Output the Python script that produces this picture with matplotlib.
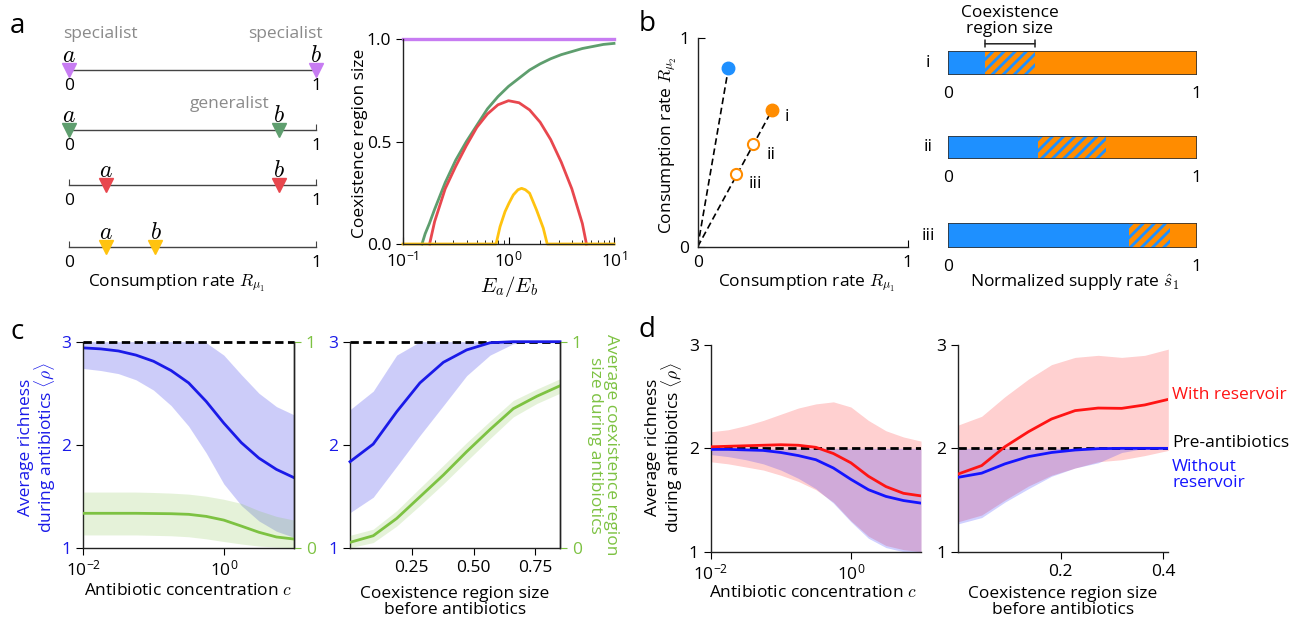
import numpy as np
import matplotlib
matplotlib.use('Agg')
import matplotlib.pyplot as plt
from matplotlib.ticker import NullLocator

plt.rcParams['font.family'] = ['Open Sans', 'DejaVu Sans']
plt.rcParams['mathtext.fontset'] = 'cm'
plt.rcParams['hatch.linewidth'] = 2.0
plt.rcParams['axes.linewidth'] = 1.0
plt.rcParams['axes.edgecolor'] = '#222222'

W, H = 1293, 621

# ---- panel a: consumer positions on the R_mu1 axis
row_a = [0.0, 0.0, 0.15, 0.15]
row_b = [1.0, 0.85, 0.85, 0.35]
row_colors = ['#c77cf2', '#5e9e6e', '#e8474e', '#ffc30f']

# ---- panel a right: coexistence region size vs Ea/Eb (log10 of Ea/Eb)
purple_logx = [-1.0, 1.0]
purple_y = [1, 1]
green_logx = [-0.82, -0.79, -0.75, -0.7, -0.6, -0.5, -0.4, -0.3, -0.2, -0.1, 0, 0.1, 0.2,
              0.3, 0.4, 0.5, 0.6, 0.7, 0.8, 0.9, 1.0]
green_y = [0, 0.05, 0.10, 0.17, 0.30, 0.41, 0.50, 0.58, 0.66, 0.72, 0.77, 0.81, 0.85,
           0.88, 0.905, 0.925, 0.94, 0.955, 0.965, 0.975, 0.98]
red_logx = [-0.748, -0.7, -0.6, -0.5, -0.4, -0.3, -0.2, -0.1, 0, 0.1, 0.2, 0.3, 0.4,
            0.5, 0.6, 0.7, 0.739]
red_y = [0, 0.11, 0.27, 0.38, 0.48, 0.57, 0.635, 0.68, 0.70, 0.69, 0.655, 0.595, 0.51,
         0.40, 0.27, 0.10, 0]
yellow_logx = [-1.0, -0.118, -0.08, -0.033, 0.005, 0.046, 0.09, 0.124, 0.16, 0.2, 0.266,
               0.33, 0.367, 1.0]
yellow_y = [0, 0, 0.085, 0.158, 0.2, 0.24, 0.265, 0.272, 0.265, 0.248, 0.166, 0.077, 0, 0]

# ---- panel b: consumption vectors and supply-rate bars
blue_pt = (0.146, 0.853)
orange_x = [0.354, 0.263, 0.182]
orange_y = [0.653, 0.49, 0.346]
orange_names = ['i', 'ii', 'iii']
blue_end = [0.148, 0.362, 0.729]
hatch_end = [0.349, 0.634, 0.893]

# ---- panel c left: richness vs antibiotic concentration
c_logc = [-2.0, -1.75, -1.5, -1.25, -1, -0.75, -0.5, -0.25, 0, 0.25, 0.5, 0.75, 1]
c_rich = [2.94, 2.93, 2.91, 2.87, 2.81, 2.72, 2.60, 2.42, 2.21, 2.02, 1.87, 1.76, 1.68]
c_rich_hi = [3, 3, 3, 3, 3, 3, 3, 2.99, 2.87, 2.68, 2.50, 2.37, 2.29]
c_rich_lo = [2.74, 2.72, 2.69, 2.63, 2.53, 2.38, 2.18, 1.92, 1.62, 1.41, 1.26, 1.16, 1.10]
c_size = [0.167, 0.167, 0.167, 0.167, 0.166, 0.165, 0.162, 0.152, 0.134, 0.105, 0.075, 0.052, 0.042]
c_size_hi = [0.27, 0.27, 0.27, 0.27, 0.268, 0.265, 0.26, 0.25, 0.235, 0.215, 0.18, 0.152, 0.134]
c_size_lo = [0.062, 0.062, 0.062, 0.062, 0.06, 0.058, 0.053, 0.043, 0.03, 0.018, 0.008, 0.003, 0.0]

# ---- panel c right: vs coexistence region size before antibiotics
c_reg = [0.0, 0.094, 0.189, 0.283, 0.378, 0.472, 0.567, 0.661, 0.756, 0.85]
cr_rich = [1.835, 2.006, 2.32, 2.60, 2.80, 2.92, 2.99, 3.0, 3.0, 3.0]
cr_rich_hi = [2.34, 2.52, 2.87, 3.0, 3.0, 3.0, 3.0, 3.0, 3.0, 3.0]
cr_rich_lo = [1.34, 1.49, 1.79, 2.09, 2.38, 2.67, 2.87, 2.98, 3.0, 3.0]
cr_size = [0.026, 0.058, 0.142, 0.247, 0.353, 0.466, 0.574, 0.675, 0.735, 0.786]
cr_size_hi = [0.06, 0.09, 0.18, 0.29, 0.40, 0.51, 0.615, 0.715, 0.77, 0.82]
cr_size_lo = [0.0, 0.025, 0.105, 0.205, 0.31, 0.42, 0.53, 0.635, 0.70, 0.75]

# ---- panel d left: with / without reservoir vs concentration
d_logc = [-2.0, -1.75, -1.5, -1.25, -1, -0.75, -0.5, -0.25, 0, 0.25, 0.5, 0.75, 1]
d_res = [2.015, 2.02, 2.025, 2.03, 2.035, 2.03, 2.01, 1.95, 1.86, 1.73, 1.63, 1.565, 1.54]
d_res_hi = [2.16, 2.18, 2.22, 2.27, 2.33, 2.39, 2.43, 2.45, 2.40, 2.27, 2.17, 2.11, 2.07]
d_res_lo = [1.87, 1.85, 1.82, 1.79, 1.74, 1.68, 1.60, 1.48, 1.30, 1.15, 1.06, 1.02, 1.0]
d_nores = [1.99, 1.99, 1.985, 1.98, 1.96, 1.93, 1.89, 1.81, 1.70, 1.60, 1.535, 1.495, 1.47]
d_nores_hi = [2.0] * 13
d_nores_lo = [1.94, 1.92, 1.89, 1.85, 1.79, 1.71, 1.61, 1.47, 1.29, 1.13, 1.04, 1.0, 0.98]

# ---- panel d right: vs coexistence region size before antibiotics
d_reg = [0.0, 0.0456, 0.0911, 0.137, 0.182, 0.228, 0.273, 0.319, 0.364, 0.41]
dr_res = [1.752, 1.833, 2.016, 2.161, 2.284, 2.365, 2.39, 2.387, 2.42, 2.474]
dr_res_hi = [2.226, 2.31, 2.50, 2.67, 2.81, 2.88, 2.90, 2.88, 2.90, 2.96]
dr_res_lo = [1.29, 1.355, 1.50, 1.636, 1.74, 1.81, 1.87, 1.89, 1.93, 1.98]
dr_nores = [1.72, 1.76, 1.85, 1.92, 1.96, 1.984, 1.997, 2.0, 2.0, 2.0]
dr_nores_hi = [2.0] * 10
dr_nores_lo = [1.27, 1.33, 1.48, 1.61, 1.73, 1.81, 1.86, 1.96, 2.0, 2.0]

BLUE_C = '#1a1ae8'
GREEN_C = '#7dc242'
RED_D = '#ff1414'
BLUE_D = '#1414ff'
BAR_BLUE = '#1e90ff'
BAR_ORANGE = '#ff8c00'
FS = 12.5

fig = plt.figure(figsize=(W / 100, H / 100), dpi=100)


def px_axes(x0, y0, x1, y1):
    return fig.add_axes([x0 / W, 1 - y1 / H, (x1 - x0) / W, (y1 - y0) / H])


def ftext(x, y, s, **kw):
    kw.setdefault('fontsize', FS)
    kw.setdefault('ha', 'center')
    kw.setdefault('va', 'center')
    fig.text(x / W, 1 - y / H, s, **kw)


def only_spines(ax, keep):
    for s in ['top', 'bottom', 'left', 'right']:
        ax.spines[s].set_visible(s in keep)


def pow10(v):
    return 10.0 ** np.asarray(v, dtype=float)


# ================= panel a left
row_y = [70, 130, 185, 247]
for i in range(4):
    ax = px_axes(69, row_y[i] - 12, 316, row_y[i])
    ax.set_xlim(0, 1)
    ax.set_ylim(0, 1)
    only_spines(ax, ['bottom'])
    ax.spines['bottom'].set_color('#444444')
    ax.set_yticks([])
    ax.set_xticks([0, 1])
    ax.set_xticklabels(['0', '1'])
    ax.tick_params(axis='x', direction='in', length=4, pad=6, labelsize=FS, color='#444444')
    ax.patch.set_visible(False)
    ax.plot([row_a[i], row_b[i]], [0, 0], 'v', ms=10, color=row_colors[i],
            clip_on=False, zorder=5)
    for name, xv in (('a', row_a[i]), ('b', row_b[i])):
        ax.annotate('$%s$' % name, (xv, 0), xytext=(0, 6), textcoords='offset points',
                    ha='center', va='baseline', fontsize=17)

ftext(63, 34, 'specialist', ha='left', color='#8a8a8a')
ftext(323, 34, 'specialist', ha='right', color='#8a8a8a')
ftext(270, 104, 'generalist', ha='right', color='#8a8a8a')
ftext(177, 283, 'Consumption rate $R_{\\mu_1}$')

# ================= panel a right
ax = px_axes(403, 39.3, 614, 244)
ax.set_xscale('log')
ax.set_xlim(0.1, 10)
ax.set_ylim(0, 1)
only_spines(ax, ['left', 'bottom'])
ax.plot(pow10(purple_logx), purple_y, color=row_colors[0], lw=2.4, clip_on=False)
ax.plot(pow10(green_logx), green_y, color=row_colors[1], lw=2.0, clip_on=False)
ax.plot(pow10(red_logx), red_y, color=row_colors[2], lw=2.0, clip_on=False)
ax.plot(pow10(yellow_logx), yellow_y, color=row_colors[3], lw=2.0, clip_on=False)
ax.set_yticks([0, 0.5, 1.0])
ax.set_yticklabels(['0.0', '0.5', '1.0'])
ax.tick_params(axis='y', direction='out', length=5, labelsize=FS)
ax.tick_params(axis='x', which='major', direction='in', length=5, labelsize=FS, pad=5)
ax.tick_params(axis='x', which='minor', direction='in', length=3)
ftext(360, 143, 'Coexistence region size', rotation=90)
ftext(509, 286, '$E_a/E_b$', fontsize=15)

# ================= panel b left
ax = px_axes(697.7, 37.7, 907.7, 246.7)
ax.set_xlim(0, 1)
ax.set_ylim(0, 1)
only_spines(ax, ['left', 'bottom'])
ax.plot([0, blue_pt[0]], [0, blue_pt[1]], color='k', lw=1.2, dashes=(4, 2.2))
ax.plot([0, orange_x[0]], [0, orange_y[0]], color='k', lw=1.2, dashes=(4, 2.2))
ax.plot(blue_pt[0], blue_pt[1], 'o', ms=9, color=BAR_BLUE, zorder=5)
ax.plot(orange_x[0], orange_y[0], 'o', ms=9, color=BAR_ORANGE, zorder=5)
ax.plot(orange_x[1:], orange_y[1:], 'o', ms=8, mfc='white', mec=BAR_ORANGE, mew=1.5, zorder=5)
label_offsets = [(9, -5), (10, -8), (9, -7)]
for k in range(3):
    ax.annotate(orange_names[k], (orange_x[k], orange_y[k]), xytext=label_offsets[k],
                textcoords='offset points', ha='left', va='center', fontsize=FS)
ax.set_xticks([0, 1])
ax.set_yticks([0, 1])
ax.set_xticklabels(['0', '1'])
ax.set_yticklabels(['0', '1'])
ax.tick_params(direction='in', length=5, labelsize=FS, pad=6)
ftext(668, 145, 'Consumption rate $R_{\\mu_2}$', rotation=90)
ftext(807, 283, 'Consumption rate $R_{\\mu_1}$')

# ================= panel b right bars
bar_rows = [(51, 75), (135.7, 159.3), (223.3, 247.7)]
for i in range(3):
    top, bot = bar_rows[i]
    ax = px_axes(948.3, top, 1196.7, bot)
    ax.set_xlim(0, 1)
    ax.set_ylim(0, 1)
    ax.barh(0.5, blue_end[i], height=1, left=0, color=BAR_BLUE, lw=0)
    ax.barh(0.5, hatch_end[i] - blue_end[i], height=1, left=blue_end[i],
            facecolor=BAR_ORANGE, hatch='///', edgecolor=BAR_BLUE, lw=0)
    ax.barh(0.5, 1 - hatch_end[i], height=1, left=hatch_end[i], color=BAR_ORANGE, lw=0)
    ax.barh(0.5, 1, height=1, left=0, fill=False, edgecolor='#333333', lw=1.2)
    only_spines(ax, [])
    ax.set_yticks([])
    ax.set_xticks([0, 1])
    ax.set_xticklabels(['0', '1'])
    ax.tick_params(axis='x', length=0, pad=8, labelsize=FS)
    ftext(928, (top + bot) / 2, orange_names[i])
    if i == 0:
        ax.annotate('', xy=(blue_end[0], 1.3), xytext=(hatch_end[0], 1.3),
                    arrowprops=dict(arrowstyle='|-|, widthA=0.25, widthB=0.25', lw=1.1,
                                    color='#222222', shrinkA=0, shrinkB=0),
                    annotation_clip=False)
ftext(1010, 21, 'Coexistence\nregion size', linespacing=1.0)
ftext(1075, 283, 'Normalized supply rate $\\hat{s}_1$')

# ================= panel c left
conc = pow10(c_logc)
ax = px_axes(83.3, 341.7, 294, 547.7)
ax.set_xscale('log')
ax.set_xlim(0.01, 10)
ax.set_ylim(1, 3)
only_spines(ax, ['left', 'bottom', 'right'])
ax.fill_between(conc, c_rich_lo, c_rich_hi, color=BLUE_C, alpha=0.22, lw=0)
ax.plot(conc, c_rich, color=BLUE_C, lw=2)
ax.axhline(3, color='k', lw=2, dashes=(3, 1.6), clip_on=False, zorder=6)
ax.set_xticks([0.01, 1])
ax.xaxis.set_minor_locator(NullLocator())
ax.set_yticks([1, 2, 3])
ax.tick_params(axis='y', direction='out', length=5, labelsize=FS, labelcolor=BLUE_C)
ax.tick_params(axis='x', direction='out', length=5, labelsize=FS)
axr = ax.twinx()
axr.set_ylim(0, 1)
only_spines(axr, ['right'])
axr.fill_between(conc, c_size_lo, c_size_hi, color=GREEN_C, alpha=0.2, lw=0)
axr.plot(conc, c_size, color=GREEN_C, lw=2)
axr.set_yticks([0, 1])
axr.tick_params(axis='y', direction='out', length=5, labelsize=FS, color=GREEN_C,
                labelcolor=GREEN_C)
ftext(38, 447, 'Average richness\nduring antibiotics $\\langle\\rho\\rangle$', rotation=90,
      color=BLUE_C, linespacing=0.95)
ftext(188, 591, 'Antibiotic concentration $c$')

# ================= panel c right
ax = px_axes(350, 341.7, 560, 547.7)
ax.set_xlim(0, 0.85)
ax.set_ylim(1, 3)
only_spines(ax, ['left', 'bottom', 'right'])
ax.fill_between(c_reg, cr_rich_lo, cr_rich_hi, color=BLUE_C, alpha=0.22, lw=0)
ax.axhline(3, color='k', lw=2, dashes=(3, 1.6), clip_on=False, zorder=2)
ax.plot(c_reg, cr_rich, color=BLUE_C, lw=2, zorder=3, clip_on=False)
ax.set_xticks([0.25, 0.5, 0.75])
ax.set_xticklabels(['0.25', '0.50', '0.75'])
ax.set_yticks([1, 2, 3])
ax.tick_params(axis='y', direction='out', length=5, labelsize=FS, labelcolor=BLUE_C)
ax.tick_params(axis='x', direction='out', length=5, labelsize=FS)
axr = ax.twinx()
axr.set_ylim(0, 1)
only_spines(axr, ['right'])
axr.fill_between(c_reg, cr_size_lo, cr_size_hi, color=GREEN_C, alpha=0.2, lw=0)
axr.plot(c_reg, cr_size, color=GREEN_C, lw=2)
axr.set_yticks([0, 1])
axr.tick_params(axis='y', direction='out', length=5, labelsize=FS, color=GREEN_C,
                labelcolor=GREEN_C)
ftext(603, 445, 'Average coexistence region\nsize during antibiotics', rotation=270,
      color=GREEN_C, linespacing=1.0)
ftext(455, 602, 'Coexistence region size\nbefore antibiotics', linespacing=1.0)

# ================= panel d left
dconc = pow10(d_logc)
ax = px_axes(710.7, 345, 921, 551.7)
ax.set_xscale('log')
ax.set_xlim(0.01, 10)
ax.set_ylim(1, 3)
only_spines(ax, ['left', 'bottom'])
ax.fill_between(dconc, d_res_lo, d_res_hi, color=RED_D, alpha=0.2, lw=0)
ax.fill_between(dconc, d_nores_lo, d_nores_hi, color=BLUE_D, alpha=0.2, lw=0)
ax.axhline(2, color='k', lw=2, dashes=(3, 1.6), zorder=2)
ax.plot(dconc, d_nores, color=BLUE_D, lw=2, zorder=3)
ax.plot(dconc, d_res, color=RED_D, lw=2, zorder=4)
ax.set_xticks([0.01, 1])
ax.xaxis.set_minor_locator(NullLocator())
ax.set_yticks([1, 2, 3])
ax.tick_params(direction='out', length=5, labelsize=FS)
ftext(665, 447, 'Average richness\nduring antibiotics $\\langle\\rho\\rangle$', rotation=90,
      linespacing=0.95)
ftext(813, 593, 'Antibiotic concentration $c$')

# ================= panel d right
ax = px_axes(958.3, 345, 1168.3, 551.7)
ax.set_xlim(0, 0.41)
ax.set_ylim(1, 3)
only_spines(ax, ['left', 'bottom'])
ax.fill_between(d_reg, dr_res_lo, dr_res_hi, color=RED_D, alpha=0.2, lw=0)
ax.fill_between(d_reg, dr_nores_lo, dr_nores_hi, color=BLUE_D, alpha=0.2, lw=0)
ax.axhline(2, color='k', lw=2, dashes=(3, 1.6), zorder=2)
ax.plot(d_reg, dr_nores, color=BLUE_D, lw=2, zorder=3)
ax.plot(d_reg, dr_res, color=RED_D, lw=2, zorder=4)
ax.set_xticks([0.2, 0.4])
ax.set_yticks([1, 2, 3])
ax.tick_params(direction='out', length=5, labelsize=FS)
ftext(1063, 602, 'Coexistence region size\nbefore antibiotics', linespacing=1.0)
ftext(1172, 395, 'With reservoir', ha='left', color=RED_D)
ftext(1172, 443, 'Pre-antibiotics', ha='left', color='k')
ftext(1172, 475, 'Without\nreservoir', ha='left', color=BLUE_D, linespacing=0.95)

# panel letters
ftext(10, 26, 'a', fontsize=20, ha='left')
ftext(639, 24, 'b', fontsize=20, ha='left')
ftext(10, 332, 'c', fontsize=20, ha='left')
ftext(639, 330, 'd', fontsize=20, ha='left')

fig.savefig('out.png', dpi=100)
